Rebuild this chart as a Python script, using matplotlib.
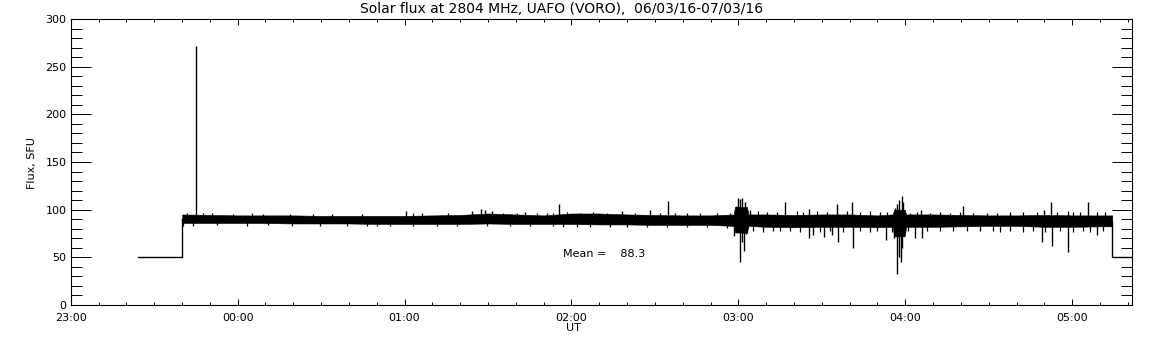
import numpy as np
import matplotlib
matplotlib.use("Agg")
import matplotlib.pyplot as plt
from matplotlib.ticker import MultipleLocator, FixedLocator, FixedFormatter

# time in minutes after 23:00 UT (06/03/16)
# flat 50 SFU before the receiver came on, and after it went off
lead_t = [24.2, 40.1, 40.1]
lead_v = [50, 50, 90]
tail_t = [374.4, 374.4, 381.5]
tail_v = [88, 50, 50]

# envelope of the noisy flux band
env_t = [40.1, 50, 60, 70, 80, 90, 100, 110, 120, 130, 140, 150, 160, 170,
         180, 190, 200, 210, 220, 230, 238.3, 238.8, 243.1, 243.6, 250, 260,
         270, 280, 290, 295.5, 296, 299.8, 300.3, 310, 320, 330, 340, 350,
         360, 370, 374.4]
env_hi = [95, 94.5, 94, 94, 94, 93.5, 93.5, 93.5, 93.5, 94, 94.5, 96, 95, 94,
          96, 96, 95, 94.5, 94, 94, 95, 103, 103, 95, 95, 94.5, 95, 95, 94,
          95, 100, 100, 95, 95, 94.5, 94, 94, 94.5, 94, 94, 94]
env_lo = [86, 86, 86, 86, 85.5, 85.5, 85.5, 85, 85, 85, 85, 85.5, 85, 85,
          85, 84.5, 84.5, 84, 84, 84, 83, 76, 76, 83, 82, 81.5, 82, 82, 81.5,
          82, 72, 72, 82, 82, 82.5, 83, 83, 82, 82, 82.5, 82.5]

# big upward spikes
up_t = [44.9, 120.5, 144.2, 147.5, 148.9, 151.3, 163.3, 175.6, 198.1, 208.2,
        214.8, 239.1, 239.9, 240.6, 241.3, 242.4, 244.2, 256.9, 265.5, 275.6,
        281.0, 296.3, 297.0, 297.7, 298.7, 299.2, 305.7, 320.9, 350.0, 352.4,
        358.6, 365.7]
up_v = [272, 99, 99, 100.7, 100, 99, 98, 106, 98.6, 99.7,
        109, 104, 112, 111, 112, 108, 99.7, 108.4, 100.7, 106,
        108.4, 102, 106, 110, 114.7, 108, 99.7, 104, 99.7, 108.4,
        98.6, 107.7]

# big downward dips
dn_t = [238.3, 240.7, 241.4, 242.1, 242.7, 265.5, 266.8, 270.8, 273.5, 275.7,
        281.3, 292.9, 295.9, 297.1, 297.7, 298.3, 299.0, 299.5, 303.5, 306.1,
        349.2, 352.6, 358.6, 369.0]
dn_v = [72, 45.4, 66, 56.6, 75, 70, 73, 71.7, 73, 66.4,
        59.5, 68, 70, 32.5, 50.7, 45.4, 60, 72, 70, 70,
        66.4, 62, 55.5, 73.4]

# small spikes giving the band its ragged edges
small_up_t = [41.7, 47.7, 50.7, 58.4, 65.1, 69.2, 78.8, 87.2, 93.8, 104.6,
              123.2, 126.2, 135.7, 155.5, 160.3, 167.5, 171.1, 173.5,
              178.3, 183.1, 187.9, 192.7, 202.8, 211.8, 217.2, 221.4, 226.2,
              232.2, 237.0, 247.2, 250.2, 253.8, 261.0, 263.3, 268.2, 271.7,
              278.9, 283.7, 287.3, 290.9, 293.3, 301.7, 304.1, 308.9, 312.5,
              316.1, 319.7, 324.5, 329.3, 332.9, 337.6, 342.4, 347.2, 354.4,
              360.4, 362.8, 368.8, 371.8]
small_up_v = [96.5, 96, 96, 95.5, 96, 95.5, 95.5, 95.5, 95.5, 95.5,
              96.5, 96.5, 96.5, 97, 97, 96.5, 97, 97,
              97.5, 97, 97.5, 97, 97, 97, 97, 96.5, 96.5,
              96.5, 97, 99, 98, 98, 99, 98, 98.5, 98,
              99, 98, 98.5, 98, 98, 97, 98, 97, 97.5,
              97, 97.5, 97, 97, 97, 98, 98, 98, 98,
              98, 98, 98, 97.5]
small_dn_t = [40.5, 44.1, 52.5, 63.3, 71.0, 79.4, 89.6, 99.2, 106.4,
              110.0, 114.8, 123.2, 131.6, 138.7, 149.5, 157.9, 165.1, 173.5,
              177.1, 181.9, 186.7, 193.9, 199.9, 207.0, 214.2, 221.4, 228.6,
              235.8, 243.0, 245.4, 249.0, 252.6, 255.0, 258.6, 262.2, 269.3,
              272.9, 277.7, 283.7, 287.3, 289.7, 295.1, 301.1, 307.7, 312.5,
              317.3, 322.1, 326.8, 331.6, 334.0, 337.6, 342.4, 346.0, 350.2,
              355.6, 360.4, 364.0, 366.4, 371.2]
small_dn_v = [83, 83, 83.5, 83, 83.5, 83, 83, 83, 83,
              82.5, 83, 82.5, 82.5, 83, 82.5, 82.5, 82.5, 82.5,
              82, 82, 81.5, 82, 81.5, 82, 81.5, 81.5, 81.5,
              81, 76, 78, 77, 78, 77.5, 78, 77, 77,
              78, 77, 77.5, 77, 78, 77, 78, 77.5, 78,
              78, 77.5, 78, 78, 77, 77.5, 77, 77.5, 77,
              77.5, 77, 77.5, 77, 77.5]

mean_flux = 88.3

hour_ticks = [0, 60, 120, 180, 240, 300, 360]
hour_labels = ["23:00", "00:00", "01:00", "02:00", "03:00", "04:00", "05:00"]

fig = plt.figure(figsize=(11.52, 3.45), dpi=100)
ax = fig.add_axes([70.7 / 1152, 1 - 305 / 345, (1132 - 70.7) / 1152, 286 / 345])

ax.plot(lead_t, lead_v, color="black", lw=1)
ax.plot(tail_t, tail_v, color="black", lw=1)
ax.fill_between(env_t, env_lo, env_hi, color="black", lw=0.4)
ax.vlines(up_t, 90, up_v, color="black", lw=1)
ax.vlines(dn_t, dn_v, 86, color="black", lw=1)
ax.vlines(small_up_t, 90, small_up_v, color="black", lw=0.9)
ax.vlines(small_dn_t, small_dn_v, 87, color="black", lw=0.9)

ax.text(177.1, 53.5, "Mean =    %.1f" % mean_flux, fontsize=8, va="center", ha="left")

ax.set_xlim(0, 381.5)
ax.set_ylim(0, 300)
ax.xaxis.set_major_locator(FixedLocator(hour_ticks))
ax.xaxis.set_major_formatter(FixedFormatter(hour_labels))
ax.xaxis.set_minor_locator(MultipleLocator(10))
ax.yaxis.set_major_locator(MultipleLocator(50))
ax.yaxis.set_minor_locator(MultipleLocator(10))

ax.tick_params(axis="both", which="both", direction="in", top=True, right=True,
               labelsize=8, width=0.7)
ax.tick_params(axis="x", which="major", length=4.2, pad=6)
ax.tick_params(axis="x", which="minor", length=2.3)
ax.tick_params(axis="y", which="major", length=14.4, pad=3)
ax.tick_params(axis="y", which="minor", length=7.9)
for s in ax.spines.values():
    s.set_linewidth(0.8)

fig.text(562 / 1152, 1 - 9 / 345, "Solar flux at 2804 MHz, UAFO (VORO),  06/03/16-07/03/16",
         ha="center", va="center", fontsize=10)
fig.text(573 / 1152, 1 - 328 / 345, "UT", ha="center", va="center", fontsize=8)
fig.text(32 / 1152, 1 - 163 / 345, "Flux, SFU", ha="center", va="center",
         rotation=90, fontsize=8)

fig.savefig("out.png", dpi=100)
